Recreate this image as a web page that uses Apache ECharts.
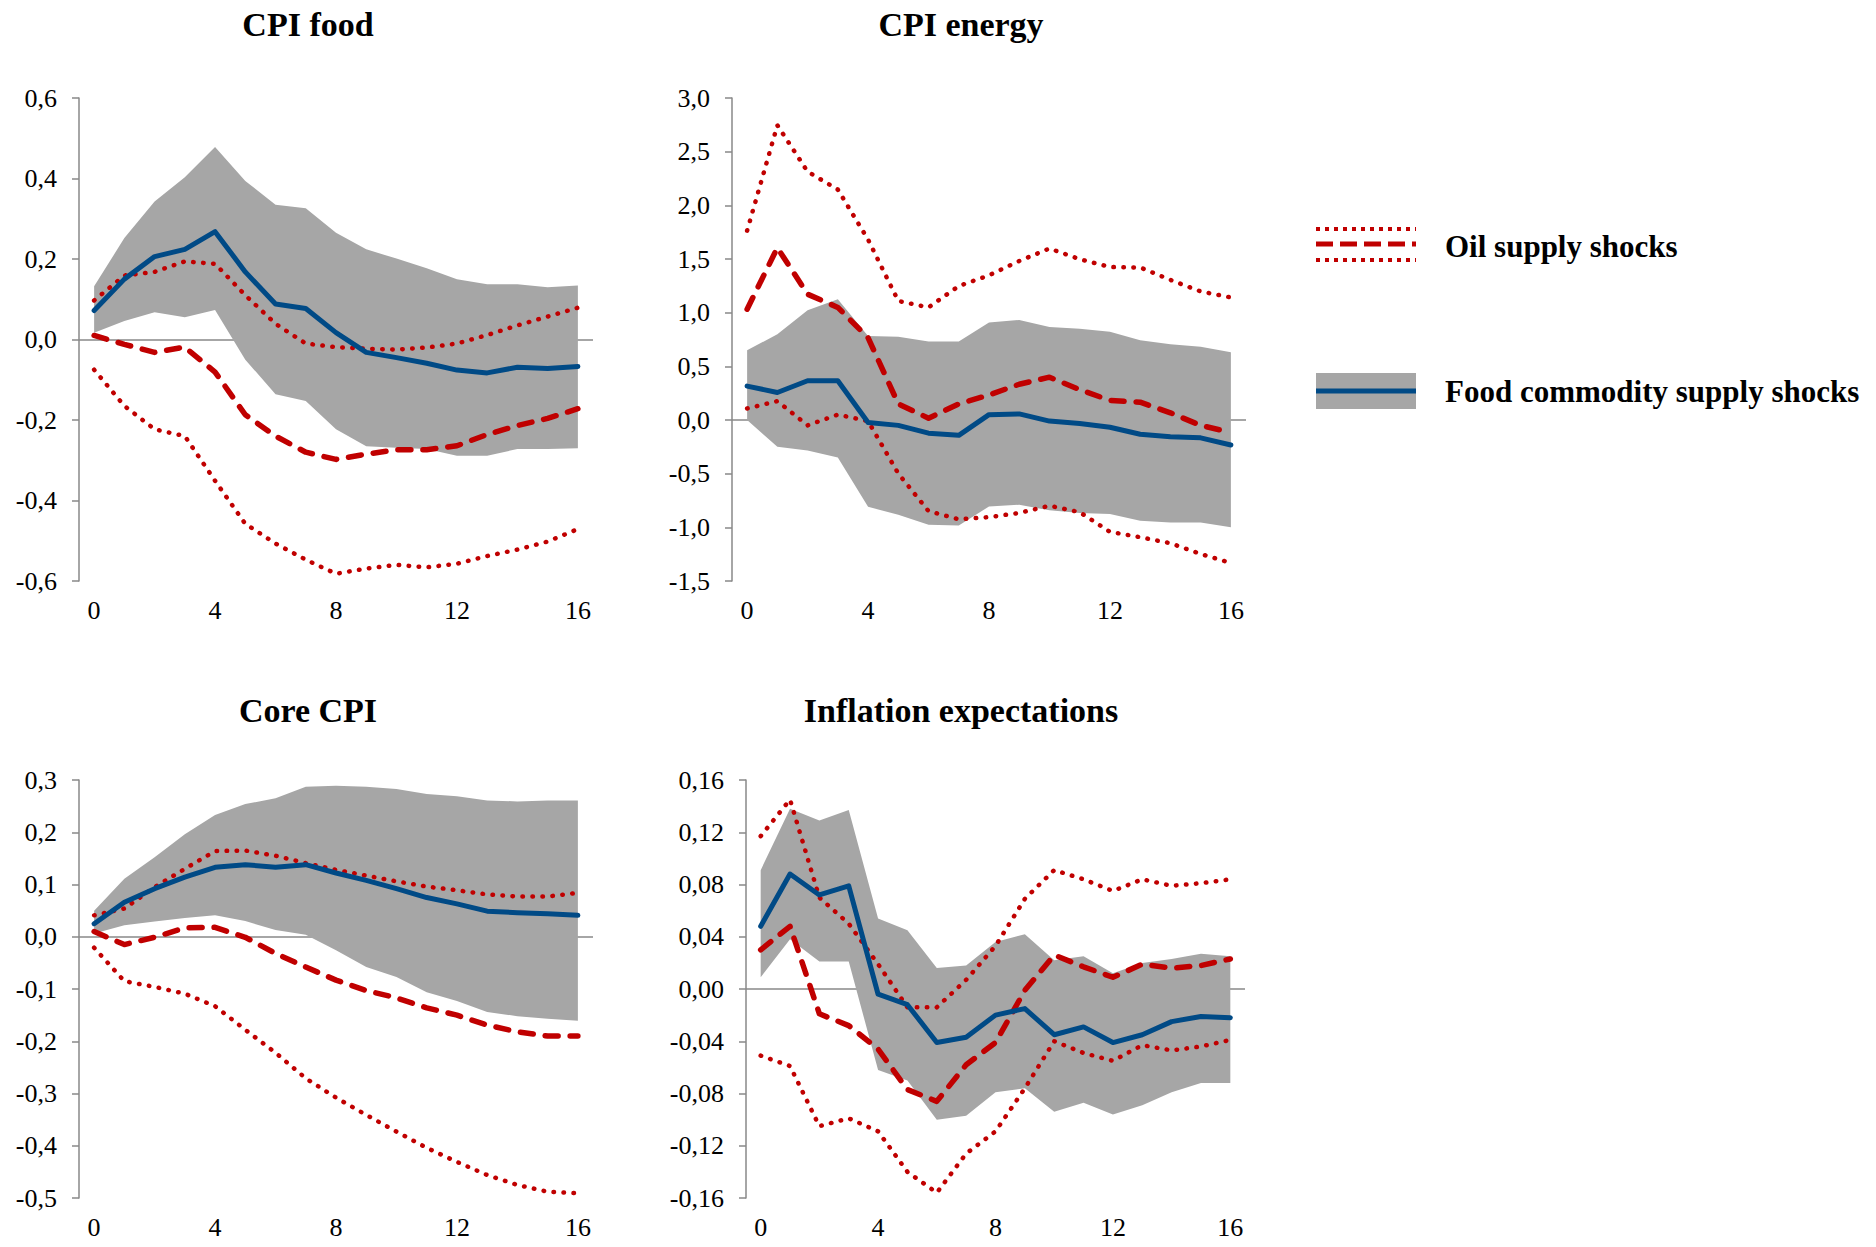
<!DOCTYPE html>
<html>
<head>
<meta charset="utf-8">
<script src="https://cdn.jsdelivr.net/npm/echarts@6/dist/echarts.min.js"></script>
<style>
html,body{margin:0;padding:0;background:#fff;}
#chart{width:1876px;height:1247px;}
</style>
</head>
<body>
<div id="chart"></div>
<script>
// ---------- DATA ----------
const horizons = ['0','1','2','3','4','5','6','7','8','9','10','11','12','13','14','15','16'];

// CPI food
const foodFood      = [0.072,0.150,0.206,0.224,0.268,0.168,0.088,0.077,0.017,-0.032,-0.045,-0.059,-0.076,-0.083,-0.069,-0.072,-0.067];
const foodFoodUp    = [0.132,0.252,0.343,0.403,0.478,0.394,0.335,0.326,0.265,0.224,0.201,0.177,0.150,0.137,0.137,0.130,0.134];
const foodFoodLo    = [0.017,0.046,0.068,0.055,0.073,-0.050,-0.136,-0.153,-0.223,-0.265,-0.269,-0.272,-0.289,-0.289,-0.272,-0.272,-0.270];
const foodOil       = [0.010,-0.012,-0.032,-0.019,-0.081,-0.187,-0.240,-0.280,-0.298,-0.285,-0.274,-0.274,-0.264,-0.236,-0.214,-0.196,-0.172];
const foodOilUp     = [0.097,0.159,0.168,0.194,0.188,0.110,0.039,-0.010,-0.019,-0.023,-0.025,-0.020,-0.010,0.011,0.035,0.057,0.079];
const foodOilLo     = [-0.075,-0.165,-0.223,-0.240,-0.351,-0.458,-0.507,-0.547,-0.582,-0.569,-0.560,-0.566,-0.557,-0.538,-0.522,-0.502,-0.471];

// CPI energy
const enFood        = [0.316,0.256,0.366,0.366,-0.023,-0.050,-0.123,-0.143,0.050,0.057,-0.010,-0.033,-0.067,-0.133,-0.156,-0.166,-0.233];
const enFoodUp      = [0.649,0.799,1.022,1.125,0.782,0.776,0.732,0.732,0.909,0.932,0.866,0.849,0.822,0.742,0.706,0.682,0.632];
const enFoodLo      = [0.0,-0.250,-0.283,-0.350,-0.809,-0.882,-0.975,-0.982,-0.806,-0.789,-0.842,-0.866,-0.876,-0.939,-0.955,-0.955,-0.999];
const enOil         = [1.032,1.605,1.172,1.049,0.766,0.150,0.017,0.150,0.233,0.333,0.399,0.283,0.183,0.166,0.067,-0.050,-0.117];
const enOilUp       = [1.764,2.746,2.314,2.147,1.681,1.109,1.049,1.248,1.348,1.481,1.598,1.498,1.425,1.421,1.305,1.198,1.142];
const enOilLo       = [0.107,0.176,-0.050,0.050,-0.010,-0.499,-0.849,-0.925,-0.905,-0.866,-0.799,-0.859,-1.042,-1.092,-1.148,-1.248,-1.332];

// Core CPI
const coreFood      = [0.025,0.066,0.092,0.114,0.133,0.138,0.133,0.138,0.122,0.108,0.092,0.075,0.063,0.049,0.046,0.044,0.041];
const coreFoodUp    = [0.050,0.111,0.152,0.196,0.233,0.254,0.265,0.287,0.289,0.287,0.283,0.273,0.269,0.261,0.259,0.261,0.261];
const coreFoodLo    = [0.006,0.022,0.029,0.036,0.041,0.030,0.013,0.004,-0.026,-0.058,-0.077,-0.106,-0.123,-0.144,-0.152,-0.157,-0.161];
const coreOil       = [0.010,-0.015,-0.001,0.017,0.018,-0.001,-0.032,-0.058,-0.083,-0.103,-0.117,-0.136,-0.150,-0.169,-0.182,-0.190,-0.190];
const coreOilUp     = [0.041,0.054,0.095,0.130,0.164,0.165,0.155,0.141,0.128,0.117,0.106,0.096,0.089,0.081,0.077,0.077,0.084];
const coreOilLo     = [-0.021,-0.085,-0.096,-0.109,-0.133,-0.178,-0.222,-0.271,-0.308,-0.341,-0.373,-0.404,-0.431,-0.456,-0.475,-0.488,-0.491];

// Inflation expectations
const expFood       = [0.048,0.088,0.072,0.079,-0.004,-0.012,-0.041,-0.037,-0.020,-0.015,-0.035,-0.029,-0.041,-0.035,-0.025,-0.021,-0.022];
const expFoodUp     = [0.091,0.138,0.129,0.137,0.054,0.045,0.016,0.018,0.036,0.042,0.022,0.025,0.012,0.020,0.023,0.027,0.025];
const expFoodLo     = [0.009,0.038,0.021,0.021,-0.062,-0.070,-0.100,-0.097,-0.079,-0.076,-0.094,-0.087,-0.096,-0.089,-0.079,-0.072,-0.072];
const expOil        = [0.030,0.048,-0.019,-0.028,-0.046,-0.077,-0.086,-0.058,-0.041,-0.001,0.026,0.017,0.009,0.019,0.016,0.018,0.023];
const expOilUp      = [0.117,0.145,0.070,0.050,0.019,-0.014,-0.014,0.007,0.033,0.069,0.091,0.084,0.075,0.084,0.079,0.081,0.084];
const expOilLo      = [-0.051,-0.059,-0.105,-0.099,-0.109,-0.140,-0.156,-0.126,-0.109,-0.076,-0.040,-0.049,-0.055,-0.043,-0.047,-0.044,-0.039];

const panelTitles = ['CPI food','CPI energy','Core CPI','Inflation expectations'];
const yMin      = [-0.6, -1.5, -0.5, -0.16];
const yMax      = [0.6, 3.0, 0.3, 0.16];
const yStep     = [0.2, 0.5, 0.1, 0.04];
const yDecimals = [1, 1, 1, 2];
const legendNames = ['Oil supply shocks','Food commodity supply shocks'];

// ---------- STYLE / LAYOUT ----------
const FAMILY = 'Liberation Serif';
const FONT = "'Liberation Serif', serif";
const BLUE = '#004A86', RED = '#C00000', BAND = '#A6A6A6', AXIS = '#898989';
const grids = [
  {left: 79,  top: 98,  width: 514, height: 483},
  {left: 732, top: 98,  width: 514, height: 483},
  {left: 79,  top: 780, width: 514, height: 418},
  {left: 746, top: 780, width: 499, height: 418}
];
const titlePos = [[308, 24], [961, 24], [308, 710], [961, 710]];

const panels = [
  {food: foodFood, fu: foodFoodUp, fl: foodFoodLo, oil: foodOil, ou: foodOilUp, ol: foodOilLo},
  {food: enFood,   fu: enFoodUp,   fl: enFoodLo,   oil: enOil,   ou: enOilUp,   ol: enOilLo},
  {food: coreFood, fu: coreFoodUp, fl: coreFoodLo, oil: coreOil, ou: coreOilUp, ol: coreOilLo},
  {food: expFood,  fu: expFoodUp,  fl: expFoodLo,  oil: expOil,  ou: expOilUp,  ol: expOilLo}
];

function fmt(d) {
  return function (v) {
    if (Math.abs(v) < 1e-9) v = 0;
    return v.toFixed(d).replace('.', ',');
  };
}

const xAxes = [], yAxes = [], series = [];
panels.forEach(function (p, i) {
  xAxes.push({
    type: 'category', gridIndex: i, data: horizons, boundaryGap: true,
    axisLine: {show: false}, axisTick: {show: false}, splitLine: {show: false},
    axisLabel: {interval: 3, color: '#000', fontFamily: FAMILY, fontSize: 26, margin: 16}
  });
  yAxes.push({
    type: 'value', gridIndex: i, min: yMin[i], max: yMax[i], interval: yStep[i],
    axisLine: {show: true, lineStyle: {color: AXIS, width: 1.5}},
    axisTick: {show: true, inside: false, length: 7, lineStyle: {color: AXIS, width: 1.5}},
    splitLine: {show: false},
    axisLabel: {color: '#000', fontFamily: FAMILY, fontSize: 26, margin: 22, formatter: fmt(yDecimals[i])}
  });
  const diff = p.fu.map(function (u, k) { return u - p.fl[k]; });
  series.push({
    type: 'line', xAxisIndex: i, yAxisIndex: i, data: p.fl, stack: 'band' + i, stackStrategy: 'all',
    symbol: 'none', silent: true, z: 1, lineStyle: {opacity: 0}
  });
  series.push({
    type: 'line', xAxisIndex: i, yAxisIndex: i, data: diff, stack: 'band' + i, stackStrategy: 'all',
    symbol: 'none', silent: true, z: 1, lineStyle: {opacity: 0},
    areaStyle: {color: BAND, opacity: 1},
    markLine: {
      silent: true, symbol: ['none', 'none'], z: 1, label: {show: false},
      lineStyle: {color: AXIS, width: 1.5, type: 'solid'},
      emphasis: {disabled: true},
      data: [{yAxis: 0}]
    }
  });
  // Oil bands (dotted)
  [p.ou, p.ol].forEach(function (d) {
    series.push({
      type: 'line', xAxisIndex: i, yAxisIndex: i, data: d, symbol: 'none', silent: true, z: 2,
      lineStyle: {color: RED, width: 4.5, type: [0.5, 9.5], cap: 'round', join: 'round'}
    });
  });
  // Oil median (dashed)
  series.push({
    type: 'line', xAxisIndex: i, yAxisIndex: i, data: p.oil, symbol: 'none', silent: true, z: 3,
    lineStyle: {color: RED, width: 5.5, type: [13, 12], cap: 'round', join: 'round'}
  });
  // Food commodity median (solid)
  series.push({
    type: 'line', xAxisIndex: i, yAxisIndex: i, data: p.food, symbol: 'none', silent: true, z: 4,
    lineStyle: {color: BLUE, width: 5, cap: 'round', join: 'round'}
  });
});

const graphics = [];
panelTitles.forEach(function (t, i) {
  graphics.push({
    type: 'text', x: titlePos[i][0], y: titlePos[i][1], silent: true,
    style: {text: t, fill: '#000', fontFamily: FAMILY, fontSize: 34, fontWeight: 'bold',
            textAlign: 'center', textVerticalAlign: 'middle', align: 'center', verticalAlign: 'middle'}
  });
});
// Legend
graphics.push(
  {type: 'line', silent: true, shape: {x1: 1316, y1: 229, x2: 1416, y2: 229}, style: {stroke: RED, lineWidth: 4, lineDash: [4, 5]}},
  {type: 'line', silent: true, shape: {x1: 1316, y1: 244, x2: 1416, y2: 244}, style: {stroke: RED, lineWidth: 5, lineDash: [17, 7]}},
  {type: 'line', silent: true, shape: {x1: 1316, y1: 260, x2: 1416, y2: 260}, style: {stroke: RED, lineWidth: 4, lineDash: [4, 5]}},
  {type: 'text', silent: true, x: 1445, y: 246, style: {text: legendNames[0], fill: '#000', fontFamily: FAMILY, fontSize: 31, fontWeight: 'bold',
    textAlign: 'left', textVerticalAlign: 'middle', align: 'left', verticalAlign: 'middle'}},
  {type: 'rect', silent: true, shape: {x: 1316, y: 373, width: 100, height: 36}, style: {fill: BAND}},
  {type: 'line', silent: true, shape: {x1: 1316, y1: 391, x2: 1416, y2: 391}, style: {stroke: BLUE, lineWidth: 5}},
  {type: 'text', silent: true, x: 1445, y: 391, style: {text: legendNames[1], fill: '#000', fontFamily: FAMILY, fontSize: 31, fontWeight: 'bold',
    textAlign: 'left', textVerticalAlign: 'middle', align: 'left', verticalAlign: 'middle'}}
);

const chart = echarts.init(document.getElementById('chart'), null, {renderer: 'svg', width: 1876, height: 1247});
chart.setOption({
  backgroundColor: '#fff',
  animation: false,
  textStyle: {fontFamily: FAMILY},
  grid: grids,
  xAxis: xAxes,
  yAxis: yAxes,
  series: series,
  graphic: graphics
});
</script>
</body>
</html>
